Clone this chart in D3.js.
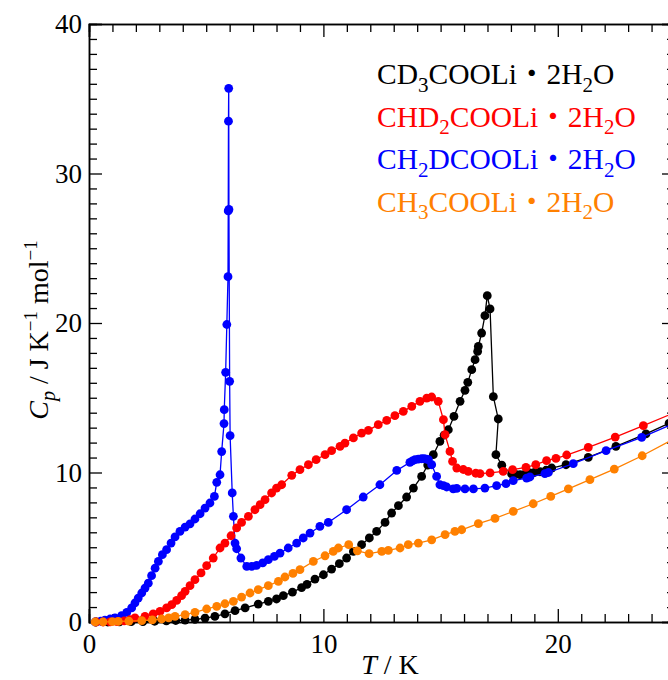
<!DOCTYPE html>
<html>
<head>
<meta charset="utf-8">
<script src="https://cdn.jsdelivr.net/npm/d3@7"></script>
<style>
  body { margin: 0; background: #fff; }
  svg { display: block; overflow: hidden; }
  text { font-family: "Liberation Serif", "Times New Roman", "Noto Sans CJK JP", serif; }
</style>
</head>
<body>
<div id="chart"></div>
<script>
// heat capacity data, [T / K, Cp / J K-1 mol-1]
const cd3Data = [
  [0.3,0.0],[0.8,0.0],[1.3,0.01],[1.8,0.02],[2.3,0.03],[2.8,0.05],[3.3,0.07],[3.7,0.1],[4.1,0.13],
  [4.52,0.18],[4.95,0.26],[5.37,0.37],[5.8,0.55],[6.23,0.76],[6.66,0.94],[7.22,1.2],[7.65,1.38],
  [8.0,1.54],[8.29,1.76],[8.68,2.0],[9.07,2.3],[9.3,2.52],[9.64,2.87],[10.0,3.16],[10.35,3.54],
  [10.68,3.9],[10.99,4.28],[11.28,4.72],[11.63,5.17],[11.96,5.62],[12.27,6.06],[12.63,6.66],
  [12.91,7.29],[13.2,7.78],[13.55,8.36],[13.84,8.96],[14.19,9.74],[14.45,10.5],[14.69,11.19],
  [14.97,12.08],[15.15,12.5],[15.33,12.86],[15.57,13.75],[15.83,14.76],[16.04,15.5],[16.16,16.03],
  [16.33,16.88],[16.47,17.55],[16.58,18.1],[16.61,18.43],[16.75,19.33],[16.89,20.49],[16.99,21.83],
  [17.11,20.94],[17.25,15.07],[17.46,13.58],[17.36,11.19],[17.61,10.49],[18.03,9.9],[18.2,9.87],
  [18.39,9.85],[18.6,9.9],[18.81,9.97],[19.0,10.0],[19.24,10.05],[19.5,10.15],[19.74,10.3],
  [20.35,10.52],[21.3,11.01],[22.48,11.75],[23.76,12.58],[24.75,13.3]
];
const chd2Data = [
  [0.3,0.0],[0.6,0.0],[0.9,0.01],[1.2,0.03],[1.5,0.08],[1.75,0.15],[1.96,0.27],[2.39,0.37],
  [2.74,0.55],[3.03,0.71],[3.31,0.94],[3.53,1.16],[3.74,1.44],[3.95,1.76],[4.1,2.05],[4.31,2.43],
  [4.52,2.83],[4.78,3.28],[5.02,3.77],[5.3,4.28],[5.59,4.95],[5.8,5.28],[6.06,5.77],[6.3,6.29],
  [6.51,6.66],[6.8,7.06],[7.08,7.51],[7.3,7.85],[7.51,8.18],[7.79,8.63],[8.0,8.96],[8.22,9.18],
  [8.65,9.81],[9.0,10.19],[9.36,10.52],[9.69,10.86],[10.07,11.19],[10.35,11.46],[10.71,11.75],
  [10.92,11.97],[11.28,12.31],[11.63,12.64],[11.92,12.82],[12.34,13.2],[12.7,13.48],[13.05,13.8],
  [13.41,14.09],[13.77,14.42],[14.12,14.76],[14.41,14.98],[14.62,15.05],[14.9,14.76],[15.12,13.53],
  [15.19,12.53],[15.4,11.41],[15.51,10.74],[15.69,10.3],[15.97,10.2],[16.18,10.07],[16.5,9.95],
  [16.68,9.92],[17.11,9.97],[17.67,10.07],[18.07,10.19],[18.64,10.34],[19.06,10.52],[19.52,10.79],
  [19.92,10.94],[20.38,11.17],[21.3,11.68],[22.45,12.37],[23.65,13.13],[24.9,13.95]
];
const ch2dData = [
  [0.26,0.0],[0.5,0.05],[0.68,0.12],[0.9,0.2],[1.11,0.27],[1.39,0.42],[1.61,0.64],[1.82,0.94],
  [1.96,1.27],[2.1,1.6],[2.25,1.94],[2.39,2.27],[2.53,2.6],[2.67,3.1],[2.82,3.6],[2.96,4.05],
  [3.13,4.5],[3.31,4.84],[3.5,5.28],[3.67,5.69],[3.88,6.06],[4.1,6.35],[4.31,6.57],[4.52,6.89],
  [4.74,7.24],[4.95,7.62],[5.16,7.96],[5.35,8.4],[5.45,9.34],[5.59,9.85],[5.66,11.4],[5.76,13.27],
  [5.77,14.2],[5.83,16.7],[5.88,19.9],[5.93,23.1],[5.94,27.5],[5.95,33.5],[5.96,35.7],[5.97,27.6],
  [6.0,16.1],[6.02,12.46],[6.11,8.63],[6.16,7.07],[6.23,5.28],[6.3,4.9],[6.48,4.28],[6.73,3.72],
  [6.94,3.72],[7.15,3.79],[7.41,3.95],[7.65,4.17],[7.91,4.39],[8.15,4.61],[8.5,4.95],[8.86,5.28],
  [9.14,5.62],[9.43,5.95],[9.85,6.39],[10.21,6.66],[10.99,7.51],[11.7,8.36],[12.41,9.18],
  [13.13,10.14],[13.69,10.68],[13.8,10.78],[13.91,10.86],[14.05,10.9],[14.19,10.92],[14.3,10.92],
  [14.4,10.9],[14.48,10.86],[14.62,10.52],[14.83,9.74],[14.97,9.18],[15.12,9.12],[15.26,9.03],
  [15.54,8.9],[15.69,8.94],[16.04,8.9],[16.4,8.9],[16.89,8.96],[17.39,9.12],[17.79,9.25],
  [18.1,9.45],[18.67,9.63],[18.81,9.7],[19.45,9.92],[19.6,10.0],[20.66,10.59],[22.06,11.46],
  [23.58,12.35],[24.9,13.25]
];
const ch3Data = [
  [0.26,0.0],[0.6,0.01],[1.0,0.02],[1.25,0.04],[1.7,0.06],[2.25,0.09],[2.7,0.14],[3.1,0.2],
  [3.4,0.28],[3.67,0.37],[4.1,0.49],[4.52,0.64],[5.02,0.87],[5.45,1.04],[5.8,1.22],[6.16,1.38],
  [6.51,1.67],[6.87,1.94],[7.22,2.16],[7.65,2.43],[8.08,2.72],[8.36,3.01],[8.7,3.25],[9.0,3.5],
  [9.57,4.05],[10.07,4.43],[10.42,4.72],[10.64,4.95],[11.08,5.17],[11.45,4.76],[11.95,4.57],
  [12.49,4.72],[12.77,4.79],[13.27,4.95],[13.62,5.17],[14.05,5.28],[14.62,5.5],[15.19,5.84],
  [15.61,6.06],[15.9,6.17],[16.61,6.58],[17.32,6.93],[18.1,7.4],[18.95,7.91],[19.7,8.4],
  [20.45,8.9],[21.37,9.52],[22.41,10.23],[23.6,11.12],[24.9,12.2]
];

const seriesNames = ["CD_3COOLi・2H_2O", "CHD_2COOLi・2H_2O", "CH_2DCOOLi・2H_2O", "CH_3COOLi・2H_2O"];
const seriesColors = ["#000000", "#ff0000", "#0000ff", "#ff8000"];
const seriesData = [cd3Data, chd2Data, ch2dData, ch3Data];
const drawOrder = [0, 2, 1, 3];

const xTicks = [0, 10, 20];
const yTicks = [0, 10, 20, 30, 40];

const W = 668, H = 680;
const mLeft = 89, mRight = 675, mTop = 24, mBottom = 622;
const serif = '"Liberation Serif", "Times New Roman", serif';

const svg = d3.select("#chart").append("svg")
  .attr("width", W).attr("height", H);

const x = d3.scaleLinear().domain([0, 25]).range([mLeft, mRight]);
const y = d3.scaleLinear().domain([0, 40]).range([mBottom, mTop]);

const minorX = d3.range(0, 26).filter(v => v % 10 !== 0);
const minorY = d3.range(0, 41).filter(v => v % 10 !== 0);

function styleAxis(g) {
  g.attr("font-family", serif);
  g.select(".domain").attr("stroke", "#000").attr("stroke-width", 1.5);
  g.selectAll(".tick line").attr("stroke", "#000").attr("stroke-width", 1.3);
  g.selectAll("text").attr("font-size", 27).attr("fill", "#000")
    .style("font-family", serif);
}

// bottom
svg.append("g").attr("transform", `translate(0,${mBottom})`)
  .call(d3.axisBottom(x).tickValues(minorX).tickSize(-8).tickFormat(""))
  .call(styleAxis);
svg.append("g").attr("transform", `translate(0,${mBottom})`)
  .call(d3.axisBottom(x).tickValues(xTicks).tickSize(-13).tickFormat(d3.format("d")))
  .call(styleAxis)
  .call(g => g.selectAll("text").attr("dy", "0.72em").attr("y", 12));
// top
svg.append("g").attr("transform", `translate(0,${mTop})`)
  .call(d3.axisTop(x).tickValues(minorX).tickSize(-8).tickFormat(""))
  .call(styleAxis);
svg.append("g").attr("transform", `translate(0,${mTop})`)
  .call(d3.axisTop(x).tickValues(xTicks).tickSize(-13).tickFormat(""))
  .call(styleAxis);
// left
svg.append("g").attr("transform", `translate(${mLeft},0)`)
  .call(d3.axisLeft(y).tickValues(minorY).tickSize(-8).tickFormat(""))
  .call(styleAxis);
svg.append("g").attr("transform", `translate(${mLeft},0)`)
  .call(d3.axisLeft(y).tickValues(yTicks).tickSize(-13).tickFormat(d3.format("d")))
  .call(styleAxis)
  .call(g => g.selectAll("text").attr("x", -7));
// right
svg.append("g").attr("transform", `translate(${mRight},0)`)
  .call(d3.axisRight(y).tickValues(minorY).tickSize(-8).tickFormat(""))
  .call(styleAxis);
svg.append("g").attr("transform", `translate(${mRight},0)`)
  .call(d3.axisRight(y).tickValues(yTicks).tickSize(-13).tickFormat(""))
  .call(styleAxis);

// series
const line = d3.line().x(d => x(d[0])).y(d => y(d[1]));
drawOrder.forEach(i => {
  const g = svg.append("g");
  g.append("path")
    .datum(seriesData[i])
    .attr("fill", "none")
    .attr("stroke", seriesColors[i])
    .attr("stroke-width", 1.3)
    .attr("d", line);
  g.selectAll("circle")
    .data(seriesData[i])
    .join("circle")
    .attr("cx", d => x(d[0]))
    .attr("cy", d => y(d[1]))
    .attr("r", 4.4)
    .attr("fill", seriesColors[i]);
});

// legend
const legend = svg.append("g").attr("transform", "translate(377,84)");
seriesNames.forEach((name, i) => {
  const t = legend.append("text")
    .attr("y", i * 42.5)
    .attr("font-size", 29.5)
    .style("font-family", serif)
    .attr("fill", seriesColors[i]);
  let shifted = false;
  name.split(/(_\d|・)/).filter(s => s).forEach(part => {
    let s;
    if (part.startsWith("_")) {
      s = t.append("tspan").attr("font-size", 21).attr("dy", 7.5).text(part.slice(1));
      shifted = true;
      return;
    }
    if (part === "・") {
      s = t.append("tspan").style("font-family", '"Noto Sans CJK JP"').text(part);
    } else {
      s = t.append("tspan").text(part);
    }
    if (shifted) { s.attr("dy", -7.5); shifted = false; }
  });
});

// axis titles
const xt = svg.append("text")
  .attr("x", 390).attr("y", 674)
  .attr("text-anchor", "middle")
  .style("font-family", serif)
  .attr("font-size", 28);
xt.append("tspan").attr("font-style", "italic").text("T");
xt.append("tspan").text(" / K");

const yt = svg.append("text")
  .attr("transform", "translate(48,330) rotate(-90)")
  .attr("text-anchor", "middle")
  .style("font-family", serif)
  .attr("font-size", 28);
yt.append("tspan").attr("font-style", "italic").text("C");
yt.append("tspan").attr("font-style", "italic").attr("font-size", 20).attr("dy", 7).text("p");
yt.append("tspan").attr("dy", -7).text(" / J K");
yt.append("tspan").attr("font-size", 19).attr("dy", -11).text("−1");
yt.append("tspan").attr("dy", 11).text(" mol");
yt.append("tspan").attr("font-size", 19).attr("dy", -11).text("−1");
</script>
</body>
</html>
